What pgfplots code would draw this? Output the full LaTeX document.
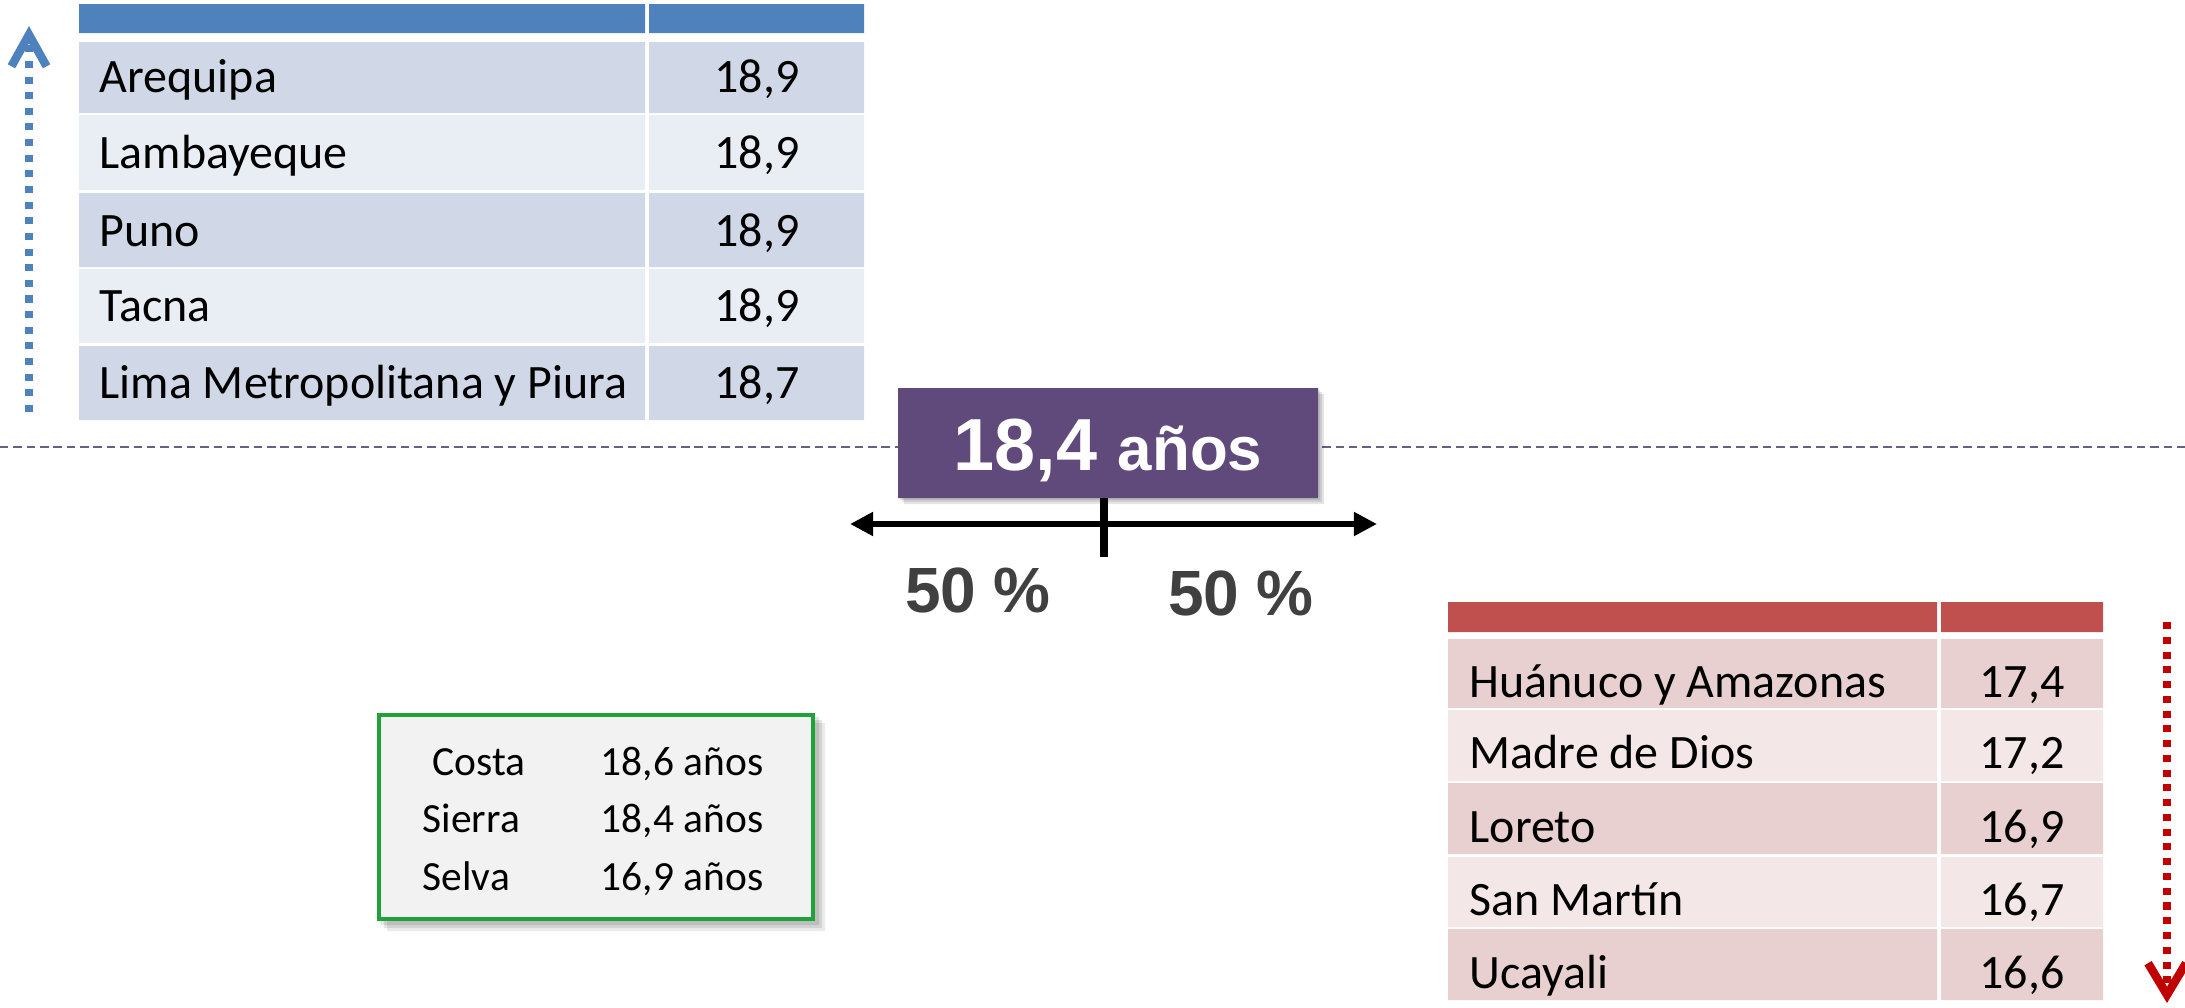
\documentclass[border=0pt]{standalone}
\usepackage{fontspec}
\setmainfont{Carlito}
\newfontfamily\arial{Liberation Sans}
\usepackage{pgfplots}
\pgfplotsset{compat=1.18}
\usetikzlibrary{arrows.meta}
\definecolor{bluehead}{HTML}{4F81BD}
\definecolor{blueodd}{HTML}{D0D8E8}
\definecolor{blueeven}{HTML}{E9EDF4}
\definecolor{redhead}{HTML}{C0504D}
\definecolor{redodd}{HTML}{E8CFD0}
\definecolor{redeven}{HTML}{F3E7E7}
\definecolor{arrowblue}{HTML}{4F81BD}
\definecolor{arrowred}{HTML}{C00000}
\definecolor{purplebox}{HTML}{5F4A7B}
\definecolor{dashpurple}{HTML}{6A5E86}
\definecolor{boxgreen}{HTML}{1FA23A}
\definecolor{boxgrey}{HTML}{F2F2F2}
\definecolor{darkgrey}{HTML}{404040}
% one cell: colour, x1, y1, x2, y2 (pixel units of the axis)
\newcommand{\cell}[5]{\addplot[draw=none, fill=#1, forget plot] coordinates {(#2,#3) (#4,#3) (#4,#5) (#2,#5) (#2,#3)};}
\newcommand{\shadowrect}[5]{\addplot[draw=none, fill=black, fill opacity=#1, forget plot] coordinates {(#2,#3) (#4,#3) (#4,#5) (#2,#5) (#2,#3)};}
\newcommand{\tabfont}{\fontsize{13.65}{15}\selectfont}
\begin{document}
\begin{tikzpicture}
\begin{axis}[name=ax, width=21.85cm, height=10.07cm, scale only axis,
  xmin=0, xmax=2185, ymin=0, ymax=1007, y dir=reverse, hide axis, clip=false]

% dashed median line
\addplot[dashpurple, line width=0.6pt, dash pattern=on 2.4pt off 1.4pt, forget plot]
  coordinates {(0,447) (2185,447)};

% ---- top table (highest ages)
\cell{bluehead}{79}{4}{645}{33}
\cell{bluehead}{649}{4}{864}{33}
\cell{blueodd}{79}{42}{645}{113}   \cell{blueodd}{649}{42}{864}{113}
\cell{blueeven}{79}{115}{645}{190} \cell{blueeven}{649}{115}{864}{190}
\cell{blueodd}{79}{193}{645}{267}  \cell{blueodd}{649}{193}{864}{267}
\cell{blueeven}{79}{269}{645}{343} \cell{blueeven}{649}{269}{864}{343}
\cell{blueodd}{79}{346}{645}{420}  \cell{blueodd}{649}{346}{864}{420}
\node[anchor=base west, inner sep=0pt, font=\tabfont] at (axis cs:99,92) {Arequipa};
\node[anchor=base west, inner sep=0pt, font=\tabfont] at (axis cs:99,168) {Lambayeque};
\node[anchor=base west, inner sep=0pt, font=\tabfont] at (axis cs:99,246) {Puno};
\node[anchor=base west, inner sep=0pt, font=\tabfont] at (axis cs:99,321) {Tacna};
\node[anchor=base west, inner sep=0pt, font=\tabfont] at (axis cs:99,398) {Lima Metropolitana y Piura};
\node[anchor=base, inner sep=0pt, font=\tabfont] at (axis cs:757,92) {18,9};
\node[anchor=base, inner sep=0pt, font=\tabfont] at (axis cs:757,168) {18,9};
\node[anchor=base, inner sep=0pt, font=\tabfont] at (axis cs:757,246) {18,9};
\node[anchor=base, inner sep=0pt, font=\tabfont] at (axis cs:757,321) {18,9};
\node[anchor=base, inner sep=0pt, font=\tabfont] at (axis cs:757,398) {18,7};

% blue upward arrow
\addplot[arrowblue, line width=2.1pt, dash pattern=on 2pt off 2.45pt,
  arrows={-Straight Barb[length=9pt, width=10pt, line width=2.4pt]}, forget plot]
  coordinates {(29,412) (29,26)};

% ---- purple median box
\shadowrect{0.10}{900}{390}{1320}{500}
\shadowrect{0.10}{902}{392}{1322}{502}
\shadowrect{0.10}{904}{394}{1324}{504}
\cell{purplebox}{898}{388}{1318}{498}
\node[anchor=base, inner sep=0pt, text=white] at (axis cs:1108,470)
  {\arial\bfseries\fontsize{21}{21}\selectfont 18,4 \fontsize{17.6}{17.6}\selectfont años};

% double arrow and tick
\addplot[black, line width=1.7pt, arrows={Triangle[length=6.6pt, width=6.5pt]-Triangle[length=6.6pt, width=6.5pt]}, forget plot]
  coordinates {(850,524) (1377,524)};
\addplot[black, line width=2pt, forget plot] coordinates {(1104,498) (1104,557)};
\node[anchor=base, inner sep=0pt, text=darkgrey, font=\arial\bfseries\fontsize{18.2}{18.2}\selectfont] at (axis cs:978,612) {50 \%};
\node[anchor=base, inner sep=0pt, text=darkgrey, font=\arial\bfseries\fontsize{18.2}{18.2}\selectfont] at (axis cs:1241,615) {50 \%};

% ---- green box with regions
\shadowrect{0.10}{381}{717}{819}{925}
\shadowrect{0.10}{384}{720}{822}{928}
\shadowrect{0.08}{387}{723}{825}{931}
\addplot[draw=boxgreen, line width=1.15pt, line cap=rect, fill=boxgrey, forget plot]
  coordinates {(379,715) (813,715) (813,919) (379,919) (379,715)};
\node[anchor=base west, inner sep=0pt, font=\fontsize{11.8}{14}\selectfont] at (axis cs:432,775) {Costa};
\node[anchor=base west, inner sep=0pt, font=\fontsize{11.8}{14}\selectfont] at (axis cs:422,832) {Sierra};
\node[anchor=base west, inner sep=0pt, font=\fontsize{11.8}{14}\selectfont] at (axis cs:422,890) {Selva};
\node[anchor=base west, inner sep=0pt, font=\fontsize{11.8}{14}\selectfont] at (axis cs:600,775) {18,6 años};
\node[anchor=base west, inner sep=0pt, font=\fontsize{11.8}{14}\selectfont] at (axis cs:600,832) {18,4 años};
\node[anchor=base west, inner sep=0pt, font=\fontsize{11.8}{14}\selectfont] at (axis cs:600,890) {16,9 años};

% ---- bottom table (lowest ages)
\cell{redhead}{1448}{602}{1937}{632}
\cell{redhead}{1941}{602}{2103}{632}
\cell{redodd}{1448}{639}{1937}{708}   \cell{redodd}{1941}{639}{2103}{708}
\cell{redeven}{1448}{710}{1937}{781}  \cell{redeven}{1941}{710}{2103}{781}
\cell{redodd}{1448}{783}{1937}{854}   \cell{redodd}{1941}{783}{2103}{854}
\cell{redeven}{1448}{857}{1937}{927}  \cell{redeven}{1941}{857}{2103}{927}
\cell{redodd}{1448}{929}{1937}{1000}  \cell{redodd}{1941}{929}{2103}{1000}
\node[anchor=base west, inner sep=0pt, font=\tabfont] at (axis cs:1469,697) {Huánuco y Amazonas};
\node[anchor=base west, inner sep=0pt, font=\tabfont] at (axis cs:1469,768) {Madre de Dios};
\node[anchor=base west, inner sep=0pt, font=\tabfont] at (axis cs:1469,842) {Loreto};
\node[anchor=base west, inner sep=0pt, font=\tabfont] at (axis cs:1469,915) {San Martín};
\node[anchor=base west, inner sep=0pt, font=\tabfont] at (axis cs:1469,988) {Ucayali};
\node[anchor=base, inner sep=0pt, font=\tabfont] at (axis cs:2022,697) {17,4};
\node[anchor=base, inner sep=0pt, font=\tabfont] at (axis cs:2022,768) {17,2};
\node[anchor=base, inner sep=0pt, font=\tabfont] at (axis cs:2022,842) {16,9};
\node[anchor=base, inner sep=0pt, font=\tabfont] at (axis cs:2022,915) {16,7};
\node[anchor=base, inner sep=0pt, font=\tabfont] at (axis cs:2022,988) {16,6};

% red downward arrow
\addplot[arrowred, line width=2.1pt, dash pattern=on 2pt off 2.2pt,
  arrows={-Straight Barb[length=9pt, width=10.8pt, line width=2.4pt]}, forget plot]
  coordinates {(2167,622) (2167,1003)};
\end{axis}
\pgfresetboundingbox
\path (ax.south west) rectangle (ax.north east);
\end{tikzpicture}
\end{document}
